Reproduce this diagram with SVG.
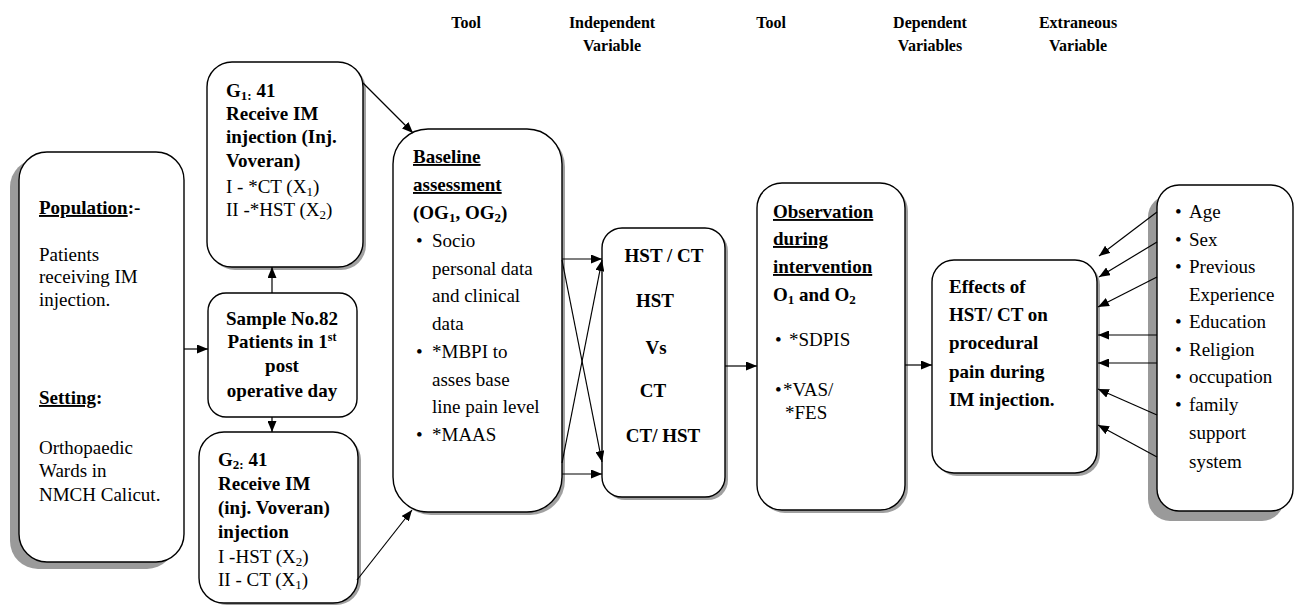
<svg xmlns="http://www.w3.org/2000/svg" width="1295" height="607" viewBox="0 0 1295 607" font-family="'Liberation Serif', 'Times New Roman', 'DejaVu Serif', serif">
<style>
.box{fill:#fff;stroke:#000;stroke-width:1.4}
.shd{fill:#9a9a9a}
.shs{fill:#a0a0a0}
text{font-family:'Liberation Serif','Times New Roman','DejaVu Serif',serif;font-size:19px;fill:#000}
.b{font-weight:bold}
.h{font-weight:bold;font-size:16px}
.c{text-anchor:middle}
.u{text-decoration:underline}
.con{stroke:#000;stroke-width:1.2;fill:none;marker-end:url(#ah)}
</style>
<defs>
<marker id="ah" markerUnits="userSpaceOnUse" markerWidth="11" markerHeight="9" refX="11" refY="4.5" orient="auto">
<path d="M0,0 L11,4.5 L0,9 z" fill="#000"/>
</marker>
</defs>
<rect width="1295" height="607" fill="#fff"/>

<g id="headers">
<text class="h c" x="466" y="28">Tool</text>
<text class="h c" x="612" y="28">Independent</text>
<text class="h c" x="612" y="51">Variable</text>
<text class="h c" x="771" y="28">Tool</text>
<text class="h c" x="930" y="28">Dependent</text>
<text class="h c" x="930" y="51">Variables</text>
<text class="h c" x="1078" y="28">Extraneous</text>
<text class="h c" x="1078" y="51">Variable</text>
</g>

<g id="population">
<rect class="shd" x="10" y="159" width="165" height="410" rx="28"/>
<rect class="box" x="19" y="152" width="165" height="410" rx="28"/>
<text class="b" x="39" y="214"><tspan class="u">Population</tspan>:-</text>
<text x="39" y="261">Patients</text>
<text x="39" y="283">receiving IM</text>
<text x="39" y="306">injection.</text>
<text class="b" x="39" y="404"><tspan class="u">Setting</tspan>:</text>
<text x="39" y="454">Orthopaedic</text>
<text x="39" y="477">Wards in</text>
<text x="39" y="501">NMCH Calicut.</text>
</g>

<g id="g1">
<rect class="shs" x="210" y="65" width="156" height="205" rx="25"/>
<rect class="box" x="207" y="62" width="156" height="205" rx="25"/>
<text class="b" x="226" y="97">G<tspan font-size="13" dy="3">1:</tspan><tspan dy="-3"> 41</tspan></text>
<text class="b" x="226" y="120">Receive IM</text>
<text class="b" x="226" y="143">injection (Inj.</text>
<text class="b" x="226" y="167">Voveran)</text>
<text x="226" y="193">I - *CT (X<tspan font-size="13" dy="3">1</tspan><tspan dy="-3">)</tspan></text>
<text x="226" y="216">II -*HST (X<tspan font-size="13" dy="3">2</tspan><tspan dy="-3">)</tspan></text>
</g>

<g id="sample">
<rect class="box" x="208" y="293" width="149" height="124" rx="18"/>
<text class="b c" x="282" y="325">Sample No.82</text>
<text class="b c" x="282" y="348">Patients in 1<tspan font-size="12" dy="-7">st</tspan></text>
<text class="b c" x="282" y="372">post</text>
<text class="b c" x="282" y="397">operative day</text>
</g>

<g id="g2">
<rect class="shs" x="202" y="435" width="159" height="170" rx="25"/>
<rect class="box" x="199" y="432" width="159" height="171" rx="25"/>
<text class="b" x="218" y="466">G<tspan font-size="13" dy="3">2:</tspan><tspan dy="-3"> 41</tspan></text>
<text class="b" x="218" y="490">Receive IM</text>
<text class="b" x="218" y="514">(inj. Voveran)</text>
<text class="b" x="218" y="538">injection</text>
<text x="218" y="563">I -HST (X<tspan font-size="13" dy="3">2</tspan><tspan dy="-3">)</tspan></text>
<text x="218" y="586">II - CT (X<tspan font-size="13" dy="3">1</tspan><tspan dy="-3">)</tspan></text>
</g>

<g id="baseline">
<rect class="shs" x="396" y="132" width="169" height="383" rx="35"/>
<rect class="box" x="393" y="129" width="169" height="383" rx="35"/>
<text class="b u" x="413" y="163">Baseline</text>
<text class="b u" x="413" y="191">assessment</text>
<text class="b" x="413" y="219">(OG<tspan font-size="13" dy="3">1</tspan><tspan dy="-3">, OG</tspan><tspan font-size="13" dy="3">2</tspan><tspan dy="-3">)</tspan></text>
<text x="416" y="247">•</text><text x="432" y="247">Socio</text>
<text x="432" y="275">personal data</text>
<text x="432" y="302">and clinical</text>
<text x="432" y="330">data</text>
<text x="416" y="358">•</text><text x="432" y="358">*MBPI to</text>
<text x="432" y="386">asses base</text>
<text x="432" y="413">line pain level</text>
<text x="416" y="441">•</text><text x="432" y="441">*MAAS</text>
</g>

<g id="hstct">
<rect class="shs" x="605" y="231" width="123" height="269" rx="20"/>
<rect class="box" x="602" y="228" width="123" height="269" rx="20"/>
<text class="b c" x="664" y="262">HST / CT</text>
<text class="b c" x="655" y="307">HST</text>
<text class="b c" x="656" y="354">Vs</text>
<text class="b c" x="653" y="397">CT</text>
<text class="b c" x="663" y="442">CT/ HST</text>
</g>

<g id="observation">
<rect class="shs" x="760" y="186" width="148" height="327" rx="25"/>
<rect class="box" x="757" y="183" width="148" height="327" rx="25"/>
<text class="b u" x="773" y="218">Observation</text>
<text class="b u" x="773" y="245">during</text>
<text class="b u" x="773" y="273">intervention</text>
<text class="b" x="773" y="301">O<tspan font-size="13" dy="3">1</tspan><tspan dy="-3"> and O</tspan><tspan font-size="13" dy="3">2</tspan></text>
<text x="775" y="346">•</text><text x="789" y="346">*SDPIS</text>
<text x="775" y="396">•</text><text x="783" y="396">*VAS/</text>
<text x="785" y="419">*FES</text>
</g>

<g id="effects">
<rect class="shs" x="935" y="263" width="165" height="213" rx="22"/>
<rect class="box" x="932" y="260" width="165" height="213" rx="22"/>
<text class="b" x="949" y="293">Effects of</text>
<text class="b" x="949" y="321">HST/ CT on</text>
<text class="b" x="949" y="349">procedural</text>
<text class="b" x="949" y="378">pain during</text>
<text class="b" x="949" y="406">IM injection.</text>
</g>

<g id="extraneous">
<rect class="shd" x="1148" y="195" width="136" height="326" rx="22"/>
<rect class="box" x="1157" y="185" width="136" height="326" rx="22"/>
<text x="1175" y="218">•</text><text x="1189" y="218">Age</text>
<text x="1175" y="246">•</text><text x="1189" y="246">Sex</text>
<text x="1175" y="273">•</text><text x="1189" y="273">Previous</text>
<text x="1189" y="301">Experience</text>
<text x="1175" y="328">•</text><text x="1189" y="328">Education</text>
<text x="1175" y="356">•</text><text x="1189" y="356">Religion</text>
<text x="1175" y="383">•</text><text x="1189" y="383">occupation</text>
<text x="1175" y="411">•</text><text x="1189" y="411">family</text>
<text x="1189" y="439">support</text>
<text x="1189" y="468">system</text>
</g>

<g id="connectors">
<line class="con" x1="184" y1="349" x2="208" y2="349"/>
<line class="con" x1="272" y1="293" x2="272" y2="267"/>
<line class="con" x1="272" y1="417" x2="272" y2="432"/>
<line class="con" x1="363" y1="83" x2="413" y2="133"/>
<line class="con" x1="357" y1="580" x2="412" y2="510"/>
<line class="con" x1="562" y1="259" x2="602" y2="259"/>
<line class="con" x1="562" y1="474" x2="602" y2="474"/>
<line class="con" x1="562" y1="260" x2="602" y2="462"/>
<line class="con" x1="562" y1="463" x2="602" y2="260"/>
<line class="con" x1="725" y1="366" x2="757" y2="366"/>
<line class="con" x1="905" y1="365" x2="932" y2="365"/>
<line class="con" x1="1157" y1="212" x2="1099" y2="256"/>
<line class="con" x1="1157" y1="242" x2="1099" y2="277"/>
<line class="con" x1="1157" y1="277" x2="1098" y2="307"/>
<line class="con" x1="1157" y1="335" x2="1098" y2="335"/>
<line class="con" x1="1157" y1="363" x2="1098" y2="363"/>
<line class="con" x1="1157" y1="415" x2="1098" y2="389"/>
<line class="con" x1="1157" y1="457" x2="1098" y2="425"/>
</g>
</svg>
